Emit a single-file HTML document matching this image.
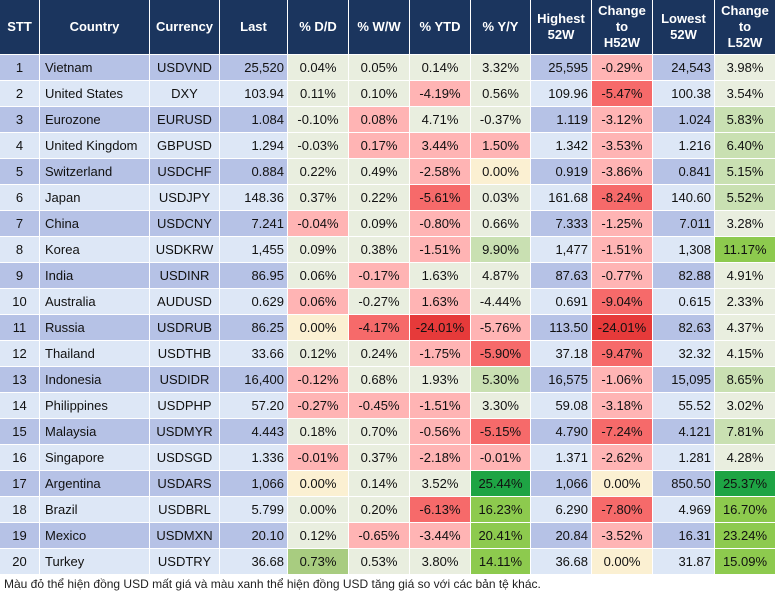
<!DOCTYPE html>
<html><head><meta charset="utf-8"><style>
body{margin:0;width:777px;height:602px;background:#fff;font-family:"Liberation Sans",Arial,sans-serif;position:relative;overflow:hidden}
.c{position:absolute;font-size:13px;color:#111;display:flex;align-items:center;box-sizing:border-box;white-space:nowrap}
.h{background:#1b355e;color:#fff;font-weight:bold;justify-content:center;text-align:center;line-height:16px;font-size:13px}
#foot{position:absolute;left:4px;top:577px;font-size:12px;color:#222}
</style></head><body>
<div id="tbl"></div>
<div id="foot">Màu đỏ thể hiện đồng USD mất giá và màu xanh thể hiện đồng USD tăng giá so với các bản tệ khác.</div>
<script>
const headers=["STT","Country","Currency","Last","% D/D","% W/W","% YTD","% Y/Y","Highest<br>52W","Change<br>to<br>H52W","Lowest<br>52W","Change<br>to<br>L52W"];
const countries=["Vietnam","United States","Eurozone","United Kingdom","Switzerland","Japan","China","Korea","India","Australia","Russia","Thailand","Indonesia","Philippines","Malaysia","Singapore","Argentina","Brazil","Mexico","Turkey"];
const currencies=["USDVND","DXY","EURUSD","GBPUSD","USDCHF","USDJPY","USDCNY","USDKRW","USDINR","AUDUSD","USDRUB","USDTHB","USDIDR","USDPHP","USDMYR","USDSGD","USDARS","USDBRL","USDMXN","USDTRY"];
const last=["25,520","103.94","1.084","1.294","0.884","148.36","7.241","1,455","86.95","0.629","86.25","33.66","16,400","57.20","4.443","1.336","1,066","5.799","20.10","36.68"];
const dd=["0.04%","0.11%","-0.10%","-0.03%","0.22%","0.37%","-0.04%","0.09%","0.06%","0.06%","0.00%","0.12%","-0.12%","-0.27%","0.18%","-0.01%","0.00%","0.00%","0.12%","0.73%"];
const ww=["0.05%","0.10%","0.08%","0.17%","0.49%","0.22%","0.09%","0.38%","-0.17%","-0.27%","-4.17%","0.24%","0.68%","-0.45%","0.70%","0.37%","0.14%","0.20%","-0.65%","0.53%"];
const ytd=["0.14%","-4.19%","4.71%","3.44%","-2.58%","-5.61%","-0.80%","-1.51%","1.63%","1.63%","-24.01%","-1.75%","1.93%","-1.51%","-0.56%","-2.18%","3.52%","-6.13%","-3.44%","3.80%"];
const yy=["3.32%","0.56%","-0.37%","1.50%","0.00%","0.03%","0.66%","9.90%","4.87%","-4.44%","-5.76%","-5.90%","5.30%","3.30%","-5.15%","-0.01%","25.44%","16.23%","20.41%","14.11%"];
const hi=["25,595","109.96","1.119","1.342","0.919","161.68","7.333","1,477","87.63","0.691","113.50","37.18","16,575","59.08","4.790","1.371","1,066","6.290","20.84","36.68"];
const chH=["-0.29%","-5.47%","-3.12%","-3.53%","-3.86%","-8.24%","-1.25%","-1.51%","-0.77%","-9.04%","-24.01%","-9.47%","-1.06%","-3.18%","-7.24%","-2.62%","0.00%","-7.80%","-3.52%","0.00%"];
const lo=["24,543","100.38","1.024","1.216","0.841","140.60","7.011","1,308","82.88","0.615","82.63","32.32","15,095","55.52","4.121","1.281","850.50","4.969","16.31","31.87"];
const chL=["3.98%","3.54%","5.83%","6.40%","5.15%","5.52%","3.28%","11.17%","4.91%","2.33%","4.37%","4.15%","8.65%","3.02%","7.81%","4.28%","25.37%","16.70%","23.24%","15.09%"];
// colour codes for dd, ww, ytd, yy, chH, chL
const shade=["nnnnpn","nnpnrn","npnnpl","nppppl","nnpypl","nnrnrl","pnpnpn","nnplpg","npnnpn","pnpnrn","yrRpRn","nnprrn","pnnlpl","pppnpn","nnprrl","pnpppn","ynnGyG","nnrgrg","nppgpg","mnngyg"];
const col={n:"#e9eedf",y:"#fbf0d2",p:"#ffb4b4",r:"#f66a6a",R:"#e63a3a",l:"#c9e0b2",m:"#a8cc80",g:"#8dca4e",G:"#1ea444"};
const edges=[0,40,150,220,288,349,410,471,531,592,653,715,776];
const tbl=document.getElementById('tbl');
const names=["stt","country","currency","last","pct-dd","pct-ww","pct-ytd","pct-yy","high-52w","change-h52w","low-52w","change-l52w"];
function cell(ci,top,h,html){const d=document.createElement('div');d.className='c';d.style.left=edges[ci]+'px';d.style.width=(edges[ci+1]-edges[ci]-1)+'px';d.style.top=top+'px';d.style.height=h+'px';d.innerHTML=html;tbl.appendChild(d);return d;}
headers.forEach((t,i)=>{const d=cell(i,0,54,t);d.classList.add('h');

});
for(let r=0;r<20;r++){
 const top=55+r*26, band=r%2===0?"#b6c2e6":"#dde7f6";
 const vals=[String(r+1),countries[r],currencies[r],last[r],dd[r],ww[r],ytd[r],yy[r],hi[r],chH[r],lo[r],chL[r]];
 const s=shade[r];
 const bg=[band,band,band,band,col[s[0]],col[s[1]],col[s[2]],col[s[3]],band,col[s[4]],band,col[s[5]]];
 vals.forEach((v,i)=>{const d=cell(i,top,25,v);d.style.background=bg[i];
  if(i===1){d.style.paddingLeft='5px';}
  else if(i===3||i===8||i===10){d.style.justifyContent='flex-end';d.style.paddingRight='3px';}
  else d.style.justifyContent='center';
  
  });
}
</script>
</body></html>
